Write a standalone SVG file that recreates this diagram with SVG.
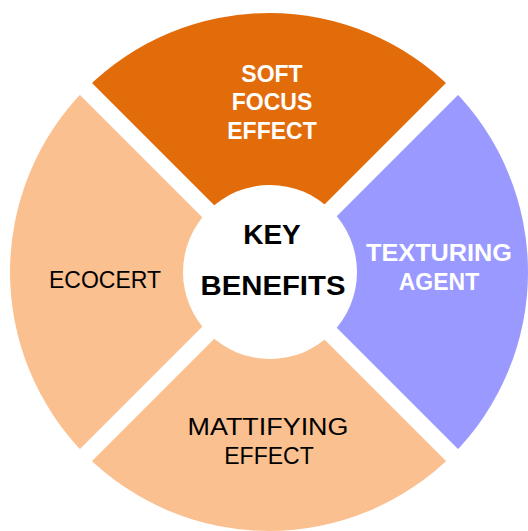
<svg xmlns="http://www.w3.org/2000/svg" width="528" height="531" viewBox="0 0 528 531">
<style>
text{font-family:"Liberation Sans","Open Sans",sans-serif;text-anchor:middle}
.w{fill:#ffffff;font-weight:bold;font-size:23px}
.k{fill:#000000;font-size:23px}
.c{fill:#000000;font-weight:bold;font-size:28px}
.sep{stroke:#ffffff;stroke-width:17;fill:none}
</style>
<rect width="528" height="531" fill="#ffffff"/>
<g id="soft-focus">
<path d="M269,272 L85.86,88.86 A259,259 0 0 1 452.14,88.86 Z" fill="#E36C0A"/>
<text class="w" x="272" y="82">SOFT</text>
<text class="w" x="272" y="110">FOCUS</text>
<text class="w" x="272" y="139">EFFECT</text>
</g>
<g id="texturing">
<path d="M269,272 L452.14,88.86 A259,259 0 0 1 452.14,455.14 Z" fill="#9999FF"/>
<text class="w" x="439" y="261" textLength="146" lengthAdjust="spacingAndGlyphs">TEXTURING</text>
<text class="w" x="439" y="290">AGENT</text>
</g>
<g id="mattifying">
<path d="M269,272 L452.14,455.14 A259,259 0 0 1 85.86,455.14 Z" fill="#FAC090"/>
<text class="k" x="268" y="435" textLength="161" lengthAdjust="spacingAndGlyphs">MATTIFYING</text>
<text class="k" x="269" y="464">EFFECT</text>
</g>
<g id="ecocert">
<path d="M269,272 L85.86,455.14 A259,259 0 0 1 85.86,88.86 Z" fill="#FAC090"/>
<text class="k" x="105" y="288">ECOCERT</text>
</g>
<g id="separators">
<line class="sep" x1="60" y1="63" x2="478" y2="481"/>
<line class="sep" x1="478" y1="63" x2="60" y2="481"/>
</g>
<g id="key-benefits">
<circle cx="270" cy="272" r="87" fill="#ffffff"/>
<text class="c" x="272" y="244">KEY</text>
<text class="c" x="273" y="295" textLength="145" lengthAdjust="spacingAndGlyphs">BENEFITS</text>
</g>
</svg>
